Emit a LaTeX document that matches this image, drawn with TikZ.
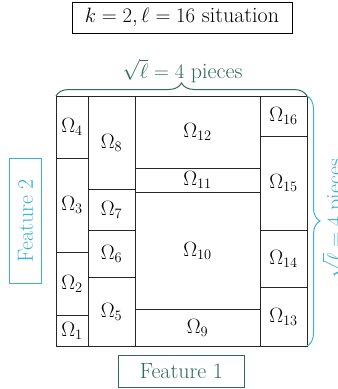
\documentclass[tikz,border=0pt]{standalone}
\usetikzlibrary{decorations.pathreplacing}
\definecolor{fgreen}{RGB}{46,108,84}
\definecolor{fcyan}{RGB}{58,178,214}
\begin{document}
\begin{tikzpicture}[x=1pt,y=-1pt,
  cellbox/.style={draw=black!85, line width=1pt},
  lbl/.style={inner sep=0pt, font=\fontsize{21}{24}\selectfont},
  txt/.style={font=\fontsize{22}{25}\selectfont},
  bracegreen/.style={draw=fgreen, line width=1pt, decorate, decoration={brace, amplitude=13pt, aspect=0.5}},
  bracecyan/.style={draw=fcyan, line width=1pt, decorate, decoration={brace, amplitude=13pt, aspect=0.5}}]
\useasboundingbox (0,0) rectangle (338,389);

% title
\node[txt, draw=black, line width=1pt, minimum width=220pt, minimum height=31pt, inner sep=0pt] (title) at (182,17.5) {$k=2,\ell=16$ situation};

% cells: column 1
\draw[cellbox] (56,96) rectangle (88,158);   \node[lbl] (o4) at (72,127) {$\Omega_4$};
\draw[cellbox] (56,158) rectangle (88,252);  \node[lbl] (o3) at (72,205) {$\Omega_3$};
\draw[cellbox] (56,252) rectangle (88,315);  \node[lbl] (o2) at (72,283.5) {$\Omega_2$};
\draw[cellbox] (56,315) rectangle (88,346);  \node[lbl] (o1) at (72,330.5) {$\Omega_1$};
% column 2
\draw[cellbox] (88,96) rectangle (135,189);  \node[lbl] (o8) at (111.5,142.5) {$\Omega_8$};
\draw[cellbox] (88,189) rectangle (135,230); \node[lbl] (o7) at (111.5,209.5) {$\Omega_7$};
\draw[cellbox] (88,230) rectangle (135,277); \node[lbl] (o6) at (111.5,253.5) {$\Omega_6$};
\draw[cellbox] (88,277) rectangle (135,346); \node[lbl] (o5) at (111.5,311.5) {$\Omega_5$};
% column 3
\draw[cellbox] (135,96) rectangle (260,168);  \node[lbl] (o12) at (197.5,132) {$\Omega_{12}$};
\draw[cellbox] (135,168) rectangle (260,192); \node[lbl] (o11) at (197.5,180) {$\Omega_{11}$};
\draw[cellbox] (135,192) rectangle (260,309); \node[lbl] (o10) at (197.5,250.5) {$\Omega_{10}$};
\draw[cellbox] (135,309) rectangle (260,346); \node[lbl] (o9) at (197.5,327.5) {$\Omega_9$};
% column 4
\draw[cellbox] (260,96) rectangle (307,136);  \node[lbl] (o16) at (283.5,116) {$\Omega_{16}$};
\draw[cellbox] (260,136) rectangle (307,230); \node[lbl] (o15) at (283.5,183) {$\Omega_{15}$};
\draw[cellbox] (260,230) rectangle (307,287); \node[lbl] (o14) at (283.5,258.5) {$\Omega_{14}$};
\draw[cellbox] (260,287) rectangle (307,346); \node[lbl] (o13) at (283.5,316.5) {$\Omega_{13}$};

% braces
\coordinate (tl) at (56,96);
\coordinate (tr) at (307,96);
\coordinate (br) at (307,346);
\draw[bracegreen] (tl) -- (tr);
\draw[bracecyan] (tr) -- (br);
\node[txt, text=fgreen, inner sep=0pt] (toptxt) at (182.5,71) {$\sqrt{\ell}=4$ pieces};
\node[txt, text=fcyan, rotate=90, anchor=north, inner sep=0pt] (righttxt) at (322,219) {$\sqrt{\ell}=4$ pieces};

% feature boxes
\node[txt, draw=fgreen, text=fgreen, line width=1pt, minimum width=126pt, minimum height=32pt, inner sep=0pt] (f1) at (181.5,371) {Feature 1};
\node[txt, draw=fcyan, text=fcyan, line width=1pt, rotate=90, minimum width=125pt, minimum height=32pt, inner sep=0pt] (f2) at (25.5,220.5) {Feature 2};
\end{tikzpicture}
\end{document}
